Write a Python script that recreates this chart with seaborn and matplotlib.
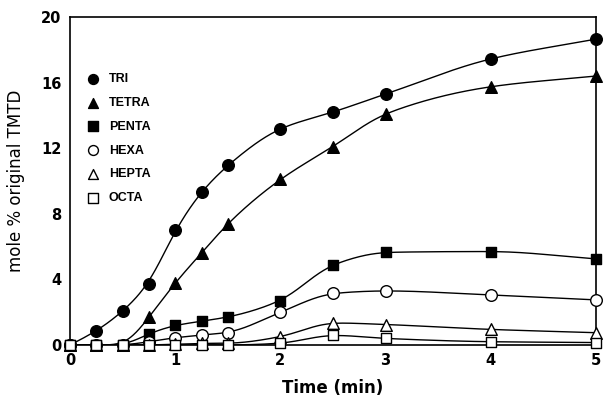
import numpy as np
import pandas as pd
import matplotlib
matplotlib.use("Agg")
import matplotlib.pyplot as plt
import seaborn as sns

time = [0, 0.25, 0.5, 0.75, 1.0, 1.25, 1.5, 2.0, 2.5, 3.0, 4.0, 5.0]
tri = [0, 0.85, 2.05, 3.75, 7.0, 9.35, 10.95, 13.2, 14.2, 15.3, 17.45, 18.65]
tetra = [0, 0, 0, 1.7, 3.8, 5.6, 7.4, 10.1, 12.1, 14.1, 15.75, 16.4]
penta = [0, 0, 0, 0.7, 1.2, 1.45, 1.7, 2.7, 4.9, 5.65, 5.7, 5.25]
hexa = [0, 0, 0, 0.2, 0.45, 0.6, 0.75, 2.0, 3.15, 3.3, 3.05, 2.75]
hepta = [0, 0, 0, 0, 0.05, 0.1, 0.1, 0.5, 1.35, 1.25, 0.95, 0.75]
octa = [0, 0, 0, 0, 0, 0, 0, 0.1, 0.6, 0.4, 0.2, 0.15]

names = ["TRI", "TETRA", "PENTA", "HEXA", "HEPTA", "OCTA"]
series = [tri, tetra, penta, hexa, hepta, octa]
markers = ["o", "^", "s", "o", "^", "s"]
filled = [True, True, True, False, False, False]


def pchip(x, y, xs):
    x = np.asarray(x, float); y = np.asarray(y, float)
    h = np.diff(x); d = np.diff(y) / h
    n = len(x); m = np.zeros(n)
    for k in range(1, n - 1):
        if d[k - 1] * d[k] > 0:
            w1 = 2 * h[k] + h[k - 1]; w2 = h[k] + 2 * h[k - 1]
            m[k] = (w1 + w2) / (w1 / d[k - 1] + w2 / d[k])
    m[0] = d[0]
    m[-1] = d[-1]
    out = np.empty_like(xs)
    idx = np.clip(np.searchsorted(x, xs) - 1, 0, n - 2)
    for i, xv in enumerate(xs):
        k = idx[i]; t = (xv - x[k]) / h[k]
        h00 = 2 * t**3 - 3 * t**2 + 1; h10 = t**3 - 2 * t**2 + t
        h01 = -2 * t**3 + 3 * t**2; h11 = t**3 - t**2
        out[i] = h00 * y[k] + h10 * h[k] * m[k] + h01 * y[k + 1] + h11 * h[k] * m[k + 1]
    return out


def smooth_curve(x, y, xs, sigma=0.1):
    base = pchip(x, y, xs)
    dx = xs[1] - xs[0]
    npad = int(4 * sigma / dx)
    left = 2 * base[0] - base[1:npad + 1][::-1]
    right = 2 * base[-1] - base[-npad - 1:-1][::-1]
    padded = np.concatenate([left, base, right])
    k = np.arange(-npad, npad + 1) * dx
    w = np.exp(-0.5 * (k / sigma) ** 2); w /= w.sum()
    sm = np.convolve(padded, w, mode="same")[npad:-npad]
    return np.maximum(sm, 0)


sns.set_theme(style="white")
plt.rcParams["font.family"] = ["DejaVu Sans"]
plt.rcParams["text.color"] = "black"
plt.rcParams["axes.labelcolor"] = "black"

fig = plt.figure(figsize=(6.05, 4.0), dpi=100)
ax = fig.add_axes([70 / 605, 55 / 400, 526 / 605, 328 / 400])

xs = np.linspace(0, 5, 501)
for name, ys, mk, fl in zip(names, series, markers, filled):
    sns.lineplot(x=xs, y=smooth_curve(time, ys, xs), ax=ax, color="black",
                 lw=1.0, zorder=2)
for name, ys, mk, fl in zip(names, series, markers, filled):
    sz = 70 if mk != "s" else 60
    sns.scatterplot(x=time, y=ys, ax=ax, marker=mk, s=sz,
                    color="black" if fl else "white", edgecolor="black",
                    linewidth=1.0, zorder=3, label=name, clip_on=False)

ax.set_xlim(0, 5)
ax.set_ylim(0, 20)
ax.set_xticks([0, 1, 2, 3, 4, 5])
ax.set_yticks([0, 4, 8, 12, 16, 20])
ax.tick_params(direction="in", length=3, width=1, colors="black", labelsize=10.5,
               pad=6)
for lab in ax.get_xticklabels() + ax.get_yticklabels():
    lab.set_fontweight("bold")
for sp in ax.spines.values():
    sp.set_color("black"); sp.set_linewidth(1.2); sp.set_visible(True)

ax.set_xlabel("Time (min)", fontsize=12, fontweight="bold", labelpad=8)
ax.set_ylabel("mole % original TMTD", fontsize=12, labelpad=12)

leg = ax.legend(loc="upper left", bbox_to_anchor=(0.0, 0.86), frameon=False,
                prop={"family": "Liberation Sans", "weight": "bold", "size": 9},
                handletextpad=0.3, labelspacing=0.95, borderpad=0.3,
                markerscale=0.85)
for t in leg.get_texts():
    t.set_color("black")

fig.savefig("out.png", dpi=100)
